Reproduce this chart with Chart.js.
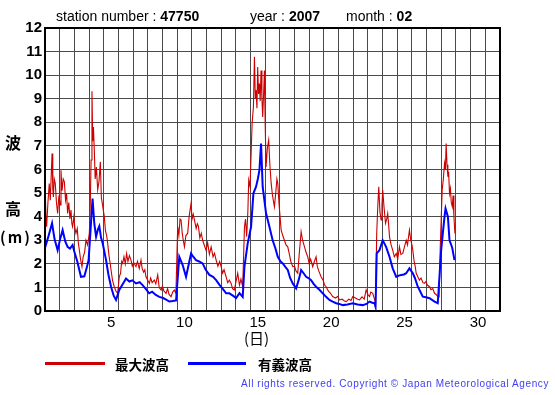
<!DOCTYPE html>
<html>
<head>
<meta charset="utf-8">
<script src="https://cdn.jsdelivr.net/npm/chart.js@4/dist/chart.umd.min.js"></script>
<style>
  html, body { margin: 0; padding: 0; background: #fff; }
  #wrap { position: relative; width: 555px; height: 395px; overflow: hidden; }
  canvas { position: absolute; left: 0; top: 0; }
  .t { position: absolute; white-space: nowrap; font-family: "Liberation Sans", Arial, sans-serif; color: #000; }
  .cjk { font-family: "Noto Sans CJK JP", sans-serif; }
</style>
</head>
<body>
<div id="wrap">
  <canvas id="c" width="555" height="395"></canvas>
  <div class="t" style="left:56px; top:8px; font-size:14px;">station number : <b>47750</b></div>
  <div class="t" style="left:250px; top:8px; font-size:14px;">year : <b>2007</b></div>
  <div class="t" style="left:346px; top:8px; font-size:14px;">month : <b>02</b></div>
  <div class="t cjk" style="left:5px; top:130px; font-size:16px; font-weight:bold;">波</div>
  <div class="t cjk" style="left:5px; top:196px; font-size:16px; font-weight:bold;">高</div>
  <div class="t cjk" style="left:0px; top:226px; font-size:15px; font-weight:bold; letter-spacing:2px;">(m)</div>
  <div class="t cjk" style="left:244px; top:327px; font-size:15px;">(日)</div>
  <div style="position:absolute; left:45px; top:362px; width:60px; height:3px; background:#cc0000;"></div>
  <div class="t cjk" style="left:115px; top:354px; font-size:13.5px; font-weight:bold;">最大波高</div>
  <div style="position:absolute; left:188px; top:362px; width:58px; height:3px; background:#0000ff;"></div>
  <div class="t cjk" style="left:258px; top:354px; font-size:13.5px; font-weight:bold;">有義波高</div>
  <div class="t" style="right:6px; top:378px; font-size:10px; letter-spacing:0.6px; color:#4040ee;">All rights reserved. Copyright © Japan Meteorological Agency</div>
</div>
<script>
// x-values are days elapsed since 1 Feb 00:00 (cell d spans [d-1, d])
const dayLabels = [5, 10, 15, 20, 25, 30];
const yTicks = [0,1,2,3,4,5,6,7,8,9,10,11,12];

// 有義波高 (significant wave height)
const sigT = [0.02,0.25,0.48,0.65,0.86,1.05,1.20,1.38,1.54,1.70,1.88,2.00,2.20,2.45,2.68,2.85,2.97,3.10,3.24,3.36,3.48,3.60,3.70,3.82,3.93,4.16,4.32,4.50,4.68,4.84,5.06,5.30,5.52,5.75,5.95,6.20,6.45,6.65,6.85,7.10,7.30,7.55,7.79,8.05,8.25,8.47,8.70,8.93,9.15,9.38,9.61,9.80,9.95,10.10,10.29,10.50,10.74,10.95,11.20,11.45,11.66,11.90,12.10,12.34,12.56,12.80,13.02,13.25,13.47,13.59,13.81,14.04,14.20,14.38,14.50,14.61,14.72,14.83,15.06,15.29,15.51,15.70,15.86,16.05,16.20,16.40,16.54,16.70,16.88,17.11,17.30,17.45,17.62,17.79,17.95,18.13,18.30,18.47,18.70,18.92,19.15,19.38,19.60,19.84,20.05,20.29,20.60,20.97,21.30,21.65,21.90,22.11,22.30,22.45,22.52,22.60,22.79,23.01,23.24,23.47,23.69,23.93,24.10,24.27,24.45,24.61,24.83,25.06,25.20,25.40,25.55,25.74,25.95,26.20,26.54,26.76,26.99,27.22,27.29,27.45,27.56,27.65,27.75,27.90];
const sigV = [2.72,3.20,3.72,3.05,2.58,3.10,3.43,2.95,2.72,2.65,2.80,2.51,2.10,1.45,1.47,1.85,2.16,3.40,4.77,3.70,3.15,3.45,3.60,3.10,2.87,2.16,1.55,1.03,0.65,0.47,0.89,1.15,1.38,1.25,1.30,1.17,1.22,1.10,0.95,0.75,0.82,0.68,0.60,0.55,0.48,0.40,0.42,0.45,2.30,1.95,1.45,2.00,2.44,2.30,2.16,2.10,2.02,1.75,1.53,1.45,1.31,1.10,0.95,0.75,0.75,0.65,0.55,0.76,0.60,1.88,2.87,3.57,4.99,5.27,5.60,5.97,7.10,5.27,4.14,3.57,3.00,2.65,2.30,2.10,2.02,1.85,1.74,1.40,1.17,0.96,1.35,1.74,1.60,1.45,1.40,1.31,1.15,1.03,0.90,0.75,0.60,0.47,0.40,0.33,0.30,0.25,0.28,0.33,0.28,0.25,0.30,0.40,0.35,0.33,0.18,2.44,2.58,3.00,2.72,2.30,1.81,1.45,1.50,1.53,1.55,1.60,1.81,1.60,1.40,1.03,0.85,0.61,0.58,0.54,0.40,0.33,2.58,4.00,4.35,4.00,3.00,2.85,2.66,2.16];

// 最大波高 (maximum wave height)
const maxT = [0.02,0.07,0.11,0.20,0.29,0.36,0.48,0.53,0.57,0.63,0.70,0.78,0.86,0.95,1.03,1.09,1.16,1.24,1.32,1.40,1.47,1.54,1.62,1.70,1.77,1.83,1.88,1.97,2.04,2.11,2.20,2.27,2.34,2.42,2.52,2.60,2.70,2.79,2.90,3.02,3.08,3.14,3.20,3.25,3.30,3.36,3.42,3.50,3.59,3.68,3.77,3.84,3.92,4.04,4.12,4.20,4.27,4.35,4.42,4.50,4.60,4.72,4.83,4.95,5.06,5.15,5.22,5.29,5.38,5.47,5.56,5.65,5.75,5.86,5.95,6.05,6.20,6.30,6.42,6.54,6.62,6.72,6.80,6.88,7.00,7.11,7.20,7.30,7.45,7.55,7.68,7.78,7.91,8.00,8.10,8.25,8.35,8.45,8.59,8.70,8.81,8.92,9.04,9.12,9.20,9.27,9.35,9.42,9.50,9.60,9.72,9.82,9.95,10.02,10.10,10.18,10.30,10.38,10.45,10.55,10.65,10.74,10.85,10.97,11.08,11.20,11.32,11.45,11.55,11.66,11.78,11.90,12.00,12.10,12.20,12.34,12.45,12.56,12.68,12.78,12.90,13.00,13.13,13.25,13.35,13.47,13.59,13.66,13.74,13.82,13.88,13.97,14.04,14.11,14.20,14.27,14.33,14.38,14.44,14.49,14.55,14.61,14.66,14.72,14.78,14.83,14.90,14.95,15.00,15.06,15.15,15.24,15.32,15.41,15.50,15.63,15.72,15.80,15.86,15.95,16.09,16.20,16.31,16.42,16.54,16.65,16.75,16.88,17.00,17.10,17.22,17.32,17.45,17.55,17.68,17.78,17.90,18.00,18.10,18.24,18.35,18.47,18.55,18.65,18.81,18.95,19.05,19.15,19.30,19.45,19.60,19.80,19.95,20.06,20.25,20.40,20.52,20.70,20.85,20.97,21.15,21.30,21.43,21.60,21.75,21.88,22.00,22.11,22.20,22.33,22.45,22.52,22.60,22.67,22.74,22.82,22.90,22.96,23.01,23.10,23.20,23.28,23.35,23.42,23.47,23.58,23.69,23.80,23.93,24.03,24.15,24.25,24.38,24.48,24.61,24.70,24.78,24.83,24.92,25.00,25.06,25.15,25.22,25.29,25.40,25.51,25.62,25.75,25.86,25.95,26.05,26.20,26.30,26.42,26.54,26.65,26.76,26.85,26.93,27.00,27.06,27.14,27.22,27.28,27.33,27.39,27.45,27.50,27.56,27.62,27.68,27.75,27.80,27.86,27.93];
const maxV = [4.99,3.90,3.57,4.60,5.41,4.70,6.68,5.20,4.84,5.60,5.41,4.60,4.14,4.90,4.50,5.97,5.10,5.60,5.48,4.70,5.00,4.14,4.60,3.90,4.28,3.70,3.57,4.00,3.50,3.29,3.50,2.90,2.58,2.20,1.88,2.30,2.50,3.00,2.80,3.29,4.40,6.40,9.32,7.20,7.80,6.80,5.60,6.10,5.13,5.50,6.33,4.80,4.50,4.00,3.40,3.20,2.87,2.40,2.10,1.74,1.30,1.03,0.85,0.75,1.45,1.60,2.10,2.02,2.30,2.00,2.44,2.10,2.35,2.16,1.90,2.05,1.88,2.10,1.80,2.16,1.80,1.65,1.75,1.45,1.30,1.17,1.40,1.20,1.31,1.15,1.53,1.00,0.89,1.05,0.85,0.75,0.95,0.70,0.61,0.80,0.89,0.75,3.57,3.20,3.90,3.86,3.30,3.00,2.72,3.20,3.29,4.00,4.56,3.90,4.10,3.86,3.50,3.70,3.60,3.10,3.30,3.00,2.80,2.58,2.90,2.40,2.72,2.30,2.45,2.16,1.90,2.10,1.88,1.60,1.75,1.45,1.20,1.31,1.17,0.95,0.89,1.20,1.60,1.10,1.35,1.03,3.57,3.90,3.15,4.20,5.55,5.27,6.60,7.95,8.66,10.78,9.00,9.36,8.60,10.35,9.20,9.65,8.90,10.20,9.00,8.23,9.30,10.20,8.00,6.11,6.90,7.25,6.20,5.41,4.90,4.42,5.00,5.60,5.41,4.50,3.43,3.20,3.00,2.80,2.72,2.40,2.10,1.88,1.90,1.70,1.60,2.40,3.36,3.00,2.72,2.50,2.30,2.00,2.20,1.88,2.10,2.30,1.90,1.70,1.45,1.30,1.10,1.03,0.85,0.75,0.61,0.55,0.62,0.47,0.50,0.42,0.40,0.50,0.45,0.61,0.55,0.50,0.47,0.60,0.50,0.89,0.70,0.61,0.80,0.75,0.50,0.33,3.29,4.40,5.27,4.20,3.86,4.50,5.13,4.40,3.72,3.90,4.14,3.60,3.15,2.80,2.58,2.30,2.44,2.20,2.72,2.40,2.44,2.70,3.00,2.80,3.20,3.43,3.00,2.80,2.58,2.10,1.90,1.60,1.45,1.31,1.40,1.20,1.17,1.25,1.10,1.03,0.90,0.95,0.75,0.70,0.61,0.60,2.72,4.00,5.13,5.60,6.26,6.00,7.10,6.20,5.69,5.90,4.99,5.20,4.60,4.42,4.90,4.00,3.29];

const toPts = (T, V) => T.map((t, i) => ({ x: t, y: V[i] }));

const framePlugin = {
  id: 'frame',
  afterDatasetsDraw(chart) {
    const { ctx, chartArea: a } = chart;
    ctx.save();
    ctx.strokeStyle = '#000';
    ctx.lineWidth = 2;
    ctx.strokeRect(a.left, a.top, a.right - a.left, a.bottom - a.top);
    ctx.restore();
  }
};

new Chart(document.getElementById('c'), {
  type: 'line',
  data: {
    datasets: [
      { label: '有義波高', data: toPts(sigT, sigV), borderColor: '#0000ff', borderWidth: 2, pointRadius: 0, tension: 0 },
      { label: '最大波高', data: toPts(maxT, maxV), borderColor: '#cc0000', borderWidth: 1.1, pointRadius: 0, tension: 0 }
    ]
  },
  options: {
    responsive: false,
    animation: false,
    events: [],
    layout: { padding: { left: 0, top: 28, right: 55, bottom: 0 } },
    plugins: { legend: { display: false }, tooltip: { enabled: false } },
    scales: {
      x: {
        type: 'linear', min: 0, max: 31,
        afterBuildTicks: (s) => { s.ticks = Array.from({ length: 31 }, (_, i) => ({ value: i + 0.5 })); },
        afterFit: (s) => { s.height = 84; },
        grid: { offset: true, color: '#4a4a4a', lineWidth: 1, drawTicks: false },
        border: { display: false },
        ticks: {
          autoSkip: false, maxRotation: 0, padding: 3, color: '#000',
          font: { family: 'Liberation Sans', size: 15 },
          callback: (v) => dayLabels.includes(v + 0.5) ? String(v + 0.5) : ''
        }
      },
      y: {
        type: 'linear', min: 0, max: 12,
        afterBuildTicks: (s) => { s.ticks = yTicks.map(v => ({ value: v })); },
        afterFit: (s) => { s.width = 45; },
        grid: { color: '#4a4a4a', lineWidth: 1, drawTicks: false },
        border: { display: false },
        ticks: { padding: 3, color: '#000', font: { family: 'Liberation Sans', size: 15, weight: 'bold' } }
      }
    }
  },
  plugins: [framePlugin]
});
</script>
</body>
</html>
